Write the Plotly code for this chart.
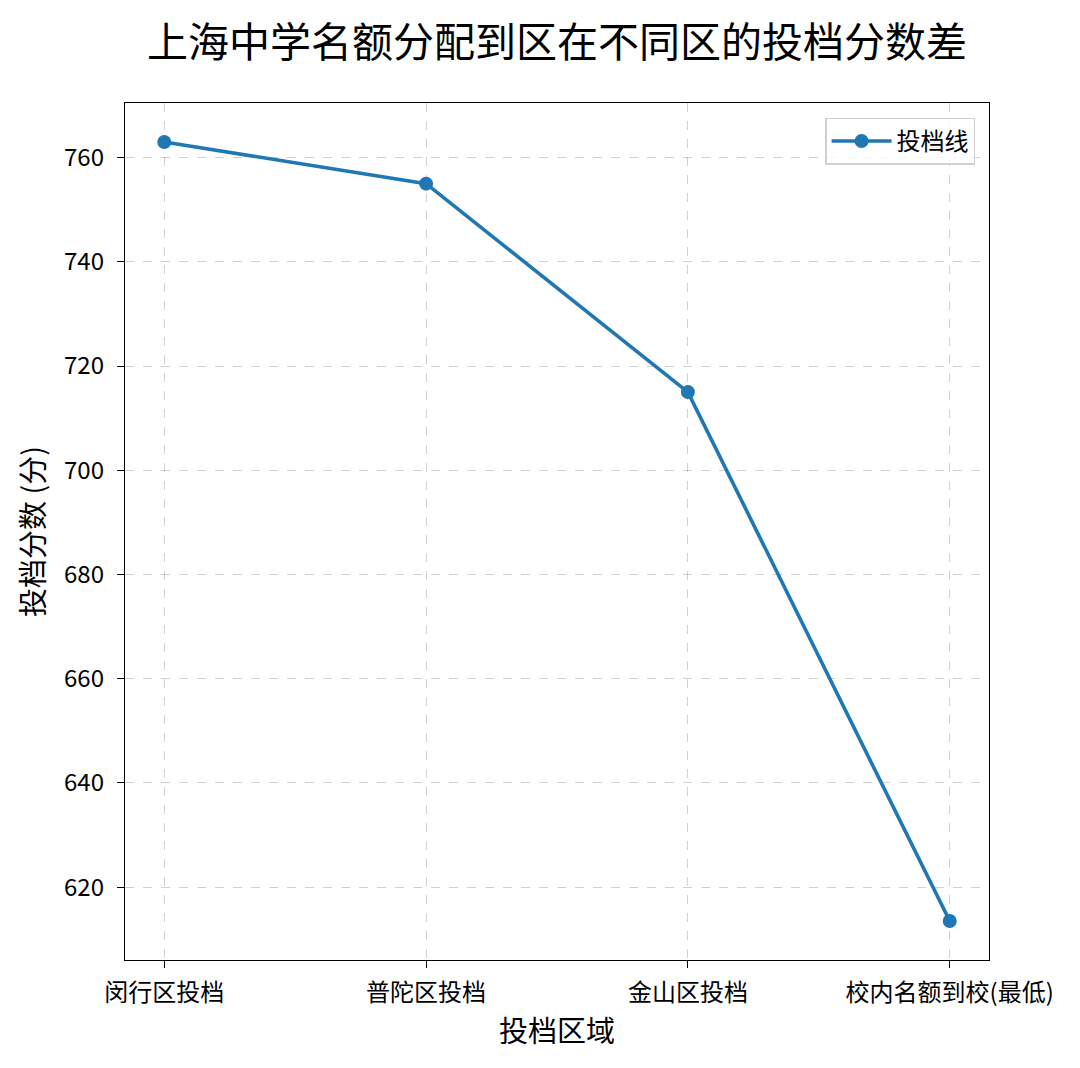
import plotly.graph_objects as go

regions = ["闵行区投档", "普陀区投档", "金山区投档", "校内名额到校(最低)"]
scores = [763, 755, 715, 613.5]
y_ticks = [620, 640, 660, 680, 700, 720, 740, 760]

font_name = "Noto Sans CJK SC"

fig = go.Figure(data=go.Scatter(
    x=list(range(len(regions))),
    y=scores,
    mode="lines+markers",
    name="投档线",
    line=dict(color="#1f77b4", width=3.6),
    marker=dict(color="#1f77b4", size=14),
))

lo, hi = min(scores), max(scores)
pad = (hi - lo) * 0.05

axis_style = dict(
    showline=True, linecolor="black", linewidth=1.4, mirror=True,
    ticks="outside", ticklen=7, tickcolor="black", tickwidth=1.4,
    showgrid=True, gridcolor="rgba(0,0,0,0.18)", griddash="dash", gridwidth=1.2,
    zeroline=False, tickfont=dict(size=24, color="black", family=font_name),
)

fig.update_layout(
    width=1080, height=1068,
    margin=dict(l=117, r=99, t=95, b=116),
    paper_bgcolor="white", plot_bgcolor="white",
    font=dict(family=font_name, color="black"),
    title=dict(text="上海中学名额分配到区在不同区的投档分数差",
               xref="paper", x=0.5, xanchor="center", y=0.968, yanchor="middle",
               font=dict(size=41, color="black")),
    xaxis=dict(axis_style, tickmode="array",
               tickvals=list(range(len(regions))), ticktext=regions,
               range=[-0.15, len(regions) - 1 + 0.15], ticklabelstandoff=4,
               title=dict(text="投档区域", font=dict(size=29), standoff=14)),
    yaxis=dict(axis_style, tickmode="array", tickvals=y_ticks,
               range=[lo - pad, hi + pad], ticklabelstandoff=8,
               title=dict(text="投档分数 (分)", font=dict(size=29), standoff=10)),
    showlegend=True,
    legend=dict(x=0.984, y=0.983, xanchor="right", yanchor="top",
                bgcolor="rgba(255,255,255,0.8)", bordercolor="#d0d0d0",
                borderwidth=1.4, font=dict(size=24), itemwidth=60,
                tracegroupgap=0),
)

fig.write_html("out.html")
